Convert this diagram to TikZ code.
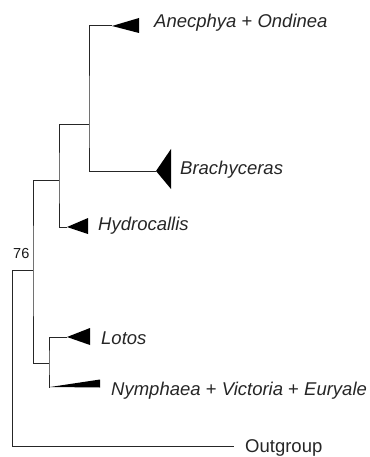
\documentclass[tikz,border=0pt]{standalone}
\usepackage{fontspec}
\setmainfont{Liberation Sans}
\begin{document}
\begin{tikzpicture}[x=1pt,y=-1pt,
  br/.style={line width=1pt, draw=black!85},
  clade/.style={fill=black},
  lab/.style={font=\fontsize{18.5}{20}\selectfont\itshape, anchor=base west, inner sep=0pt, text=black!85},
  plain/.style={font=\fontsize{18.5}{20}\selectfont, anchor=base west, inner sep=0pt, text=black!85},
  supp/.style={font=\fontsize{14.5}{16}\selectfont, anchor=base west, inner sep=0pt, text=black!90}]
\useasboundingbox (0,0) rectangle (369,457);
% branch points
\coordinate (R) at (12,270);
\coordinate (A) at (33,270);
\coordinate (B) at (59,180);
\coordinate (C) at (89,125);
\coordinate (D) at (49,363);
% terminal tips
\coordinate (tAn) at (112,26);
\coordinate (tBr) at (156,171);
\coordinate (tHy) at (67,227);
\coordinate (tLo) at (67,337);
\coordinate (tNy) at (50,387);
\coordinate (tOg) at (234,446);
% branches
\draw[br] (A) -- (R) |- (tOg);
\draw[br] (B) -| (A) |- (D);
\draw[br] (C) -| (B) |- (tHy);
\draw[br] (tAn) -| (C) |- (tBr);
\draw[br] (tLo) -| (D) |- (tNy);
% collapsed clades
\fill[clade] (tAn) -- ++(27,-8) -- ++(0,15) -- cycle;
\fill[clade] (tBr) -- ++(15,-22) -- ++(0,40) -- cycle;
\fill[clade] (tHy) -- ++(21,-9) -- ++(0,16) -- cycle;
\fill[clade] (tLo) -- ++(23,-9) -- ++(0,17) -- cycle;
\fill[clade] (tNy) -- ++(50,-7.5) -- ++(0,8) -- cycle;
% labels
\node[lab] (lAn) at (154,27.5) {Anecphya \textup{+} Ondinea};
\node[lab] (lBr) at (180,175) {Brachyceras};
\node[lab] (lHy) at (98,230) {Hydrocallis};
\node[lab] (lLo) at (101,344) {Lotos};
\node[lab] (lNy) at (111,395) {Nymphaea \textup{+} Victoria \textup{+} Euryale};
\node[plain] (lOg) at (245,452.5) {Outgroup};
\node[supp] (s76) at (13,258) {76};
\end{tikzpicture}
\end{document}
